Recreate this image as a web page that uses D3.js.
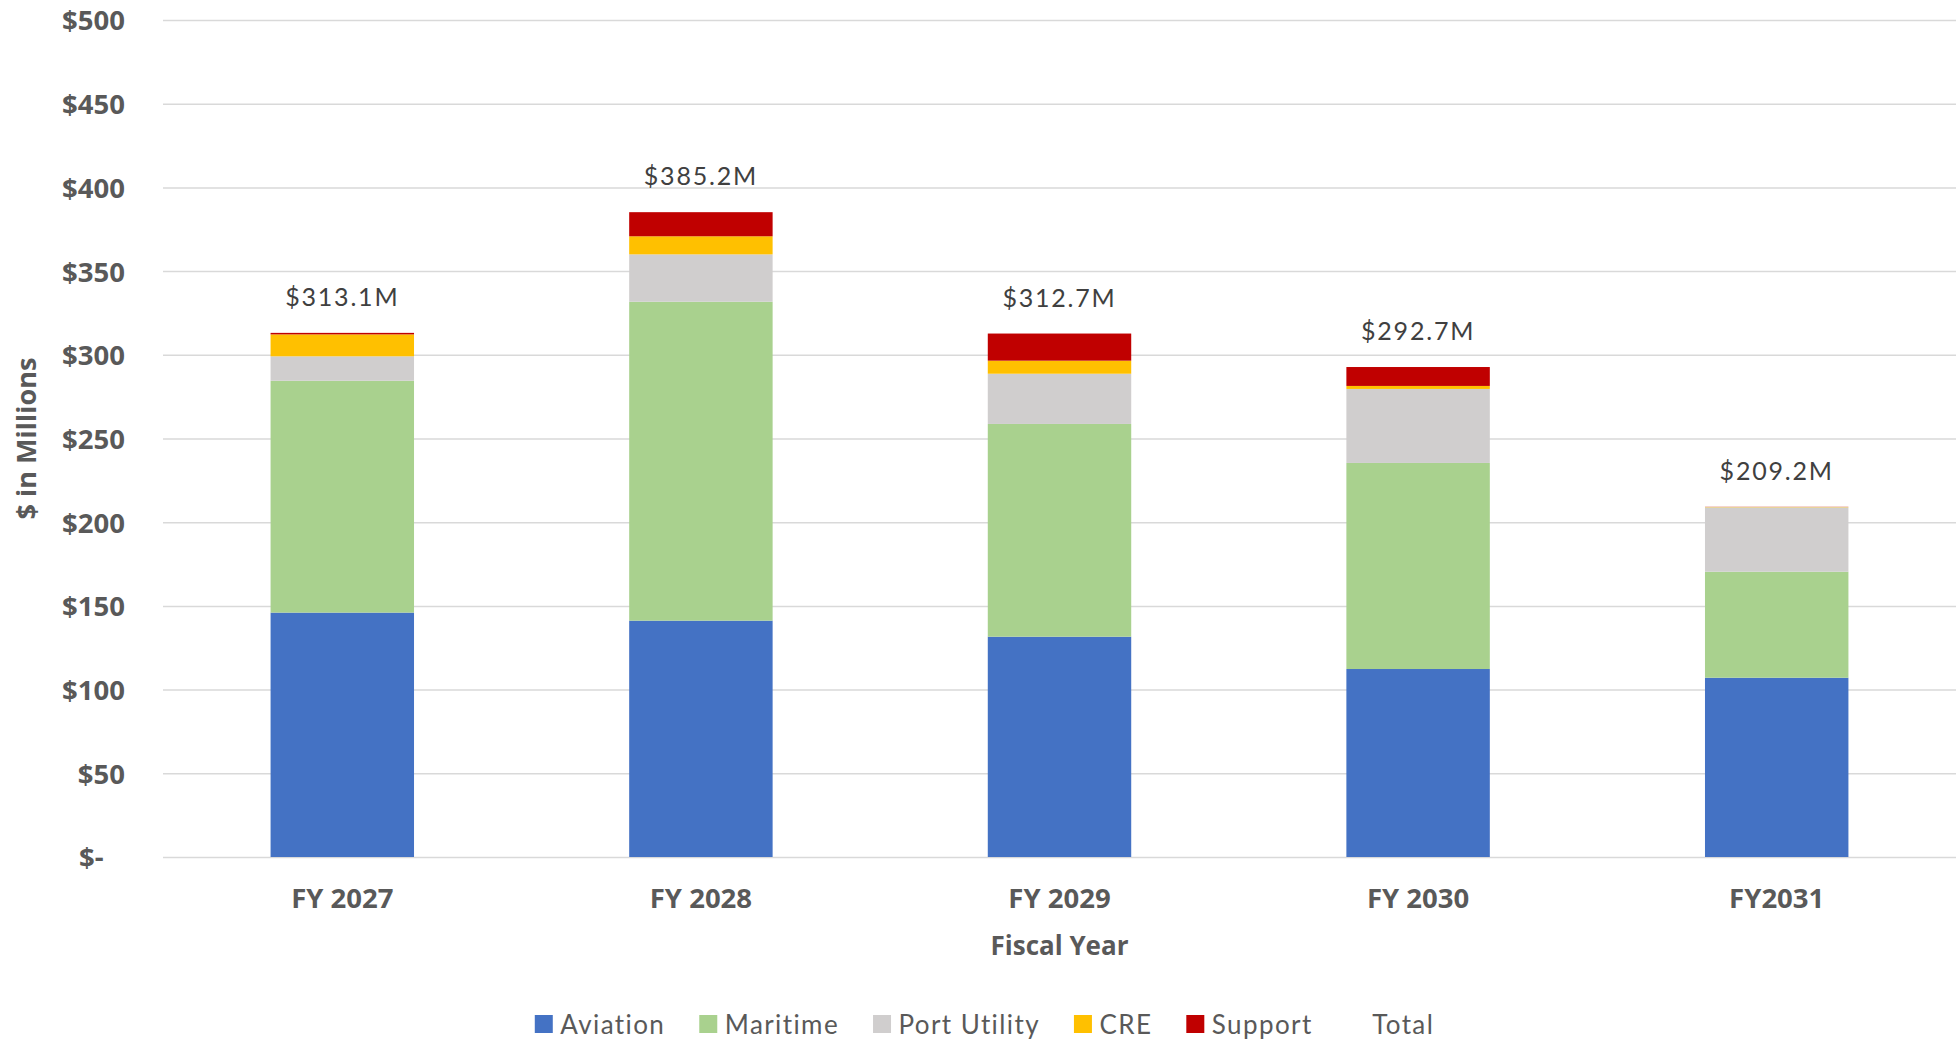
<!DOCTYPE html>
<html>
<head>
<meta charset="utf-8">
<script src="https://cdn.jsdelivr.net/npm/d3@7/dist/d3.min.js"></script>
<style>
  html, body { margin: 0; padding: 0; background: #fff; }
  svg { display: block; font-family: Lato, "Open Sans", "Noto Sans", sans-serif; }
  .bold { font-family: "Open Sans", "Noto Sans", sans-serif; font-weight: 700; }
</style>
</head>
<body>
<svg id="chart" width="1959" height="1040"></svg>
<script>
// Capital spending by program area, $ in millions
const categories = ["FY 2027", "FY 2028", "FY 2029", "FY 2030", "FY2031"];
const aviation    = [146.0, 141.2, 131.6, 112.3, 107.1];
const maritime    = [138.5, 190.5, 127.1, 123.1, 63.3];
const portUtility = [14.6, 28.3, 30.0, 44.2, 38.5];
const cre         = [13.1, 10.8, 7.8, 1.8, 0.2];
const support     = [0.9, 14.4, 16.2, 11.3, 0.1];
const totals      = [313.1, 385.2, 312.7, 292.7, 209.2];
const yTicks      = [0, 50, 100, 150, 200, 250, 300, 350, 400, 450, 500];
const seriesNames = ["Aviation", "Maritime", "Port Utility", "CRE", "Support"];
const seriesColors = ["#4472C4", "#A9D18E", "#D0CECE", "#FFC000", "#C00000"];

const W = 1959, H = 1040;
const plot = { left: 163, right: 1956, top: 20, bottom: 857 };

const rows = categories.map((c, i) => ({
  category: c,
  "Aviation": aviation[i],
  "Maritime": maritime[i],
  "Port Utility": portUtility[i],
  "CRE": cre[i],
  "Support": support[i],
  total: totals[i]
}));

const svg = d3.select("#chart");

const x = d3.scaleBand()
  .domain(categories)
  .range([plot.left, plot.right])
  .paddingInner(0.6)
  .paddingOuter(0.3);

const y = d3.scaleLinear()
  .domain([0, 500])
  .range([plot.bottom, plot.top]);

const color = d3.scaleOrdinal().domain(seriesNames).range(seriesColors);

// Horizontal gridlines with dollar tick labels
const yAxis = svg.append("g")
  .attr("transform", `translate(${plot.left},0)`)
  .call(d3.axisLeft(y)
    .tickValues(yTicks)
    .tickSize(-(plot.right - plot.left))
    .tickPadding(38)
    .tickFormat(v => v === 0 ? "$-\u00a0\u00a0\u00a0" : "$" + v));
yAxis.select(".domain").remove();
yAxis.selectAll(".tick line").attr("stroke", "#d9d9d9").attr("stroke-width", 1.5);
yAxis.selectAll(".tick text")
  .attr("class", "bold")
  .attr("fill", "#595959")
  .attr("font-size", 27.5)
  .attr("dy", "0.36em")
  .style("white-space", "pre");

// Stacked bars
const stacked = d3.stack().keys(seriesNames)(rows);

svg.append("g")
  .selectAll("g")
  .data(stacked)
  .join("g")
  .attr("fill", d => color(d.key))
  .selectAll("rect")
  .data(d => d)
  .join("rect")
  .attr("x", d => x(d.data.category))
  .attr("width", x.bandwidth())
  .attr("y", d => y(d[1]))
  .attr("height", d => Math.max(0, y(d[0]) - y(d[1])));

// Total labels above each bar
svg.append("g")
  .selectAll("text")
  .data(rows)
  .join("text")
  .attr("x", d => x(d.category) + x.bandwidth() / 2)
  .attr("y", d => y(d.total) - 27)
  .attr("text-anchor", "middle")
  .attr("fill", "#404040")
  .attr("font-size", 25)
  .attr("letter-spacing", 1.8)
  .text(d => "$" + d.total.toFixed(1) + "M");

// Category axis
const xAxis = svg.append("g")
  .attr("transform", `translate(0,${plot.bottom})`)
  .call(d3.axisBottom(x).tickSize(0).tickPadding(31));
xAxis.select(".domain").remove();
xAxis.selectAll(".tick text")
  .attr("class", "bold")
  .attr("fill", "#595959")
  .attr("font-size", 27.5);

// Axis titles
svg.append("text")
  .attr("class", "bold")
  .attr("x", (plot.left + plot.right) / 2)
  .attr("y", 955)
  .attr("text-anchor", "middle")
  .attr("fill", "#595959")
  .attr("font-size", 26)
  .text("Fiscal Year");

svg.append("text")
  .attr("class", "bold")
  .attr("transform", `translate(36,${(plot.top + plot.bottom) / 2}) rotate(-90)`)
  .attr("text-anchor", "middle")
  .attr("fill", "#595959")
  .attr("font-size", 27)
  .text("$ in Millions");

// Legend: five coloured swatches plus the Total entry without a visible marker
const legendItems = seriesNames.map(n => ({ name: n, fill: color(n) }))
  .concat([{ name: "Total", fill: "none" }]);
const swatch = 18, swatchGap = 7.5, itemGap = 34, legendBaseline = 1034;

const legend = svg.append("g");
const items = legend.selectAll("g")
  .data(legendItems)
  .join("g");
items.append("rect")
  .attr("width", swatch)
  .attr("height", swatch)
  .attr("y", legendBaseline - swatch - 1)
  .attr("fill", d => d.fill);
const labels = items.append("text")
  .attr("x", swatch + swatchGap)
  .attr("y", legendBaseline)
  .attr("fill", "#595959")
  .attr("font-size", 26)
  .attr("letter-spacing", 1.4)
  .text(d => d.name);

let offset = 0;
const widths = [];
labels.each(function () { widths.push(this.getComputedTextLength()); });
items.each(function (d, i) {
  d3.select(this).attr("transform", `translate(${offset},0)`);
  offset += swatch + swatchGap + widths[i] + (i < legendItems.length - 1 ? itemGap : 0);
});
legend.attr("transform", `translate(${W / 2 + 5 - offset / 2},0)`);
</script>
</body>
</html>
